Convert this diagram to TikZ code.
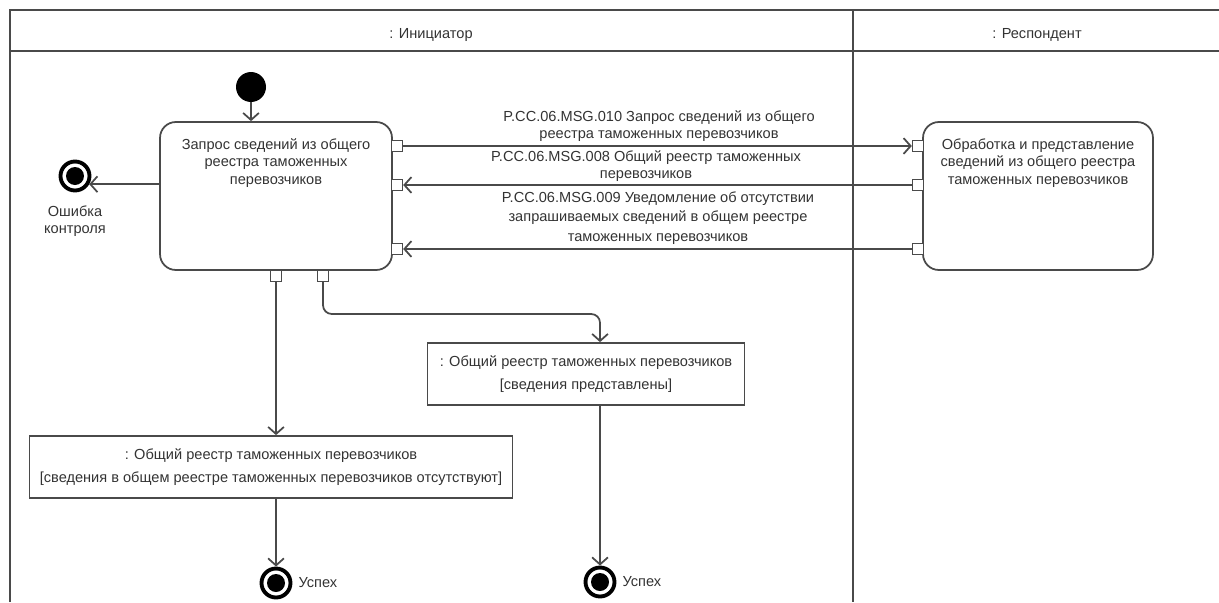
\documentclass[tikz,border=0pt]{standalone}
\usepackage{fontspec}
\setmainfont{Liberation Sans}
\usepackage{xcolor}
\usepackage{tikz}
\usetikzlibrary{positioning,arrows.meta}
\definecolor{ln}{HTML}{4A4A4A}
\newcommand{\umlfont}{\fontsize{8.3}{10}\selectfont}
\tikzset{
  lane/.style={draw=ln, line width=1.2pt},
  hdr/.style={font=\umlfont, text=black!80},
  action/.style={draw=ln, line width=1pt, rounded corners=9pt, minimum width=4.64cm, minimum height=2.96cm},
  acttxt/.style={font=\umlfont, align=center, inner sep=0pt, text=black!80},
  objnode/.style={draw=ln, line width=1pt, minimum height=1.24cm, align=center, font=\umlfont, text=black!80},
  pin/.style={draw=ln, line width=0.8pt, fill=white, minimum size=0.22cm, inner sep=0pt},
  msg/.style={font=\umlfont, align=center, inner sep=0pt, text=black!80},
  initial/.style={circle, fill=black, minimum size=0.6cm, inner sep=0pt},
  final/.style={circle, draw=black, line width=2.2pt, fill=white, minimum size=0.58cm, inner sep=0pt,
    path picture={\fill[black] (path picture bounding box.center) circle (0.18cm);}},
  flow/.style={draw=ln, line width=1pt, -{Straight Barb[length=4pt,width=9pt]}},
  lab/.style={font=\umlfont, align=center, inner sep=1pt, text=black!80}
}
\begin{document}
\begin{tikzpicture}[x=0.02cm, y=-0.02cm]
\useasboundingbox (0,0) rectangle (1219,602);
% swimlanes
\draw[lane] (10,602) -- (10,10) -- (1219,10);
\draw[lane] (10,51) -- (1219,51);
\draw[lane] (853,10) -- (853,602);
\node[hdr] (iniHdr) at (431,35) {: Инициатор};
\node[hdr] (resHdr) at (1037,35) {: Респондент};
% actions
\node[initial] (start) at (251,87) {};
\node[action] (qry) at (276,196) {};
\node[acttxt, below=0.34cm of qry.north] (qryTxt) {Запрос сведений из общего\\реестра таможенных\\перевозчиков};
\node[action, minimum width=4.6cm] (proc) at (1038,196) {};
\node[acttxt, below=0.34cm of proc.north] (procTxt) {Обработка и представление\\сведений из общего реестра\\таможенных перевозчиков};
% pins
\node[pin] (qOut) at (397,146) {};
\node[pin] (qIn1) at (397,185) {};
\node[pin] (qIn2) at (397,249) {};
\node[pin] (qB1) at (276,276) {};
\node[pin] (qB2) at (323,276) {};
\node[pin] (rIn) at (918,146) {};
\node[pin] (rOut1) at (918,185) {};
\node[pin] (rOut2) at (918,249) {};
% objects
\node[objnode, minimum width=6.34cm] (objC) at (586,374) {: Общий реестр таможенных перевозчиков\\[3pt][сведения представлены]};
\node[objnode, minimum width=9.66cm] (objD) at (271,467) {: Общий реестр таможенных перевозчиков\\[3pt][сведения в общем реестре таможенных перевозчиков отсутствуют]};
% final nodes
\node[final] (err) at (75,176) {};
\node[lab, below=0.22cm of err] (errLab) {Ошибка\\контроля};
\node[final] (ok1) at (276,583) {};
\node[lab, right=0.08cm of ok1] (ok1Lab) {Успех};
\node[final] (ok2) at (600,582) {};
\node[lab, right=0.08cm of ok2] (ok2Lab) {Успех};
\coordinate (bend) at (600,314);
% messages
\node[msg] (msg1) at (659,126) {P.CC.06.MSG.010 Запрос сведений из общего\\реестра таможенных перевозчиков};
\node[msg] (msg2) at (646,166) {P.CC.06.MSG.008 Общий реестр таможенных\\перевозчиков};
\node[msg, font=\fontsize{8.3}{11}\selectfont] (msg3) at (658,218) {P.CC.06.MSG.009 Уведомление об отсутствии\\запрашиваемых сведений в общем реестре\\таможенных перевозчиков};
% flows
\draw[flow] (start) -- (start |- qry.north);
\draw[flow] (qry.west |- err.-30) -- (err.-30);
\draw[flow] (qOut) -- (rIn);
\draw[flow] (rOut1) -- (qIn1);
\draw[flow] (rOut2) -- (qIn2);
\draw[flow] (qB1) -- (qB1 |- objD.north);
\draw[flow, rounded corners=5pt] (qB2) |- (bend) -- (bend |- objC.north);
\draw[flow] (qB1 |- objD.south) -- (ok1);
\draw[flow] (bend |- objC.south) -- (ok2);
\end{tikzpicture}
\end{document}
